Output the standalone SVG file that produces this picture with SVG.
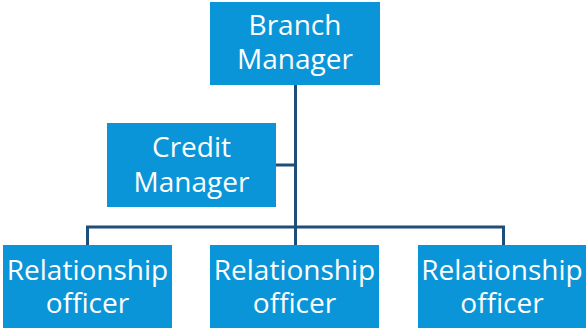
<svg xmlns="http://www.w3.org/2000/svg" width="586" height="330" viewBox="0 0 586 330">
<style>
.box{fill:#0A95D8}
.t{font-family:"Open Sans","Liberation Sans",sans-serif;font-size:28px;fill:#ffffff;text-anchor:middle}
.c{fill:none;stroke:#1F4E79;stroke-width:3}
</style>
<rect width="586" height="330" fill="#ffffff"/>
<g id="connectors">
<path class="c" d="M295.5 85 V227"/>
<path class="c" d="M276 165 H295.5"/>
<path class="c" d="M87.5 245 V227 H503.5 V245"/>
<path class="c" d="M295.5 227 V245"/>
</g>
<g id="branch-manager">
<rect class="box" x="210" y="2" width="170" height="83"/>
<text class="t" x="295" y="35">Branch</text>
<text class="t" x="295" y="69">Manager</text>
</g>
<g id="credit-manager">
<rect class="box" x="107" y="123" width="169" height="84"/>
<text class="t" x="191.5" y="157">Credit</text>
<text class="t" x="191.5" y="192">Manager</text>
</g>
<g id="ro1">
<rect class="box" x="3" y="245" width="169" height="83"/>
<text class="t" x="87.5" y="280">Relationship</text>
<text class="t" x="87.5" y="313">officer</text>
</g>
<g id="ro2">
<rect class="box" x="210" y="245" width="169" height="83"/>
<text class="t" x="294.5" y="280">Relationship</text>
<text class="t" x="294.5" y="313">officer</text>
</g>
<g id="ro3">
<rect class="box" x="418" y="245" width="168" height="83"/>
<text class="t" x="502" y="280">Relationship</text>
<text class="t" x="502" y="313">officer</text>
</g>
</svg>
